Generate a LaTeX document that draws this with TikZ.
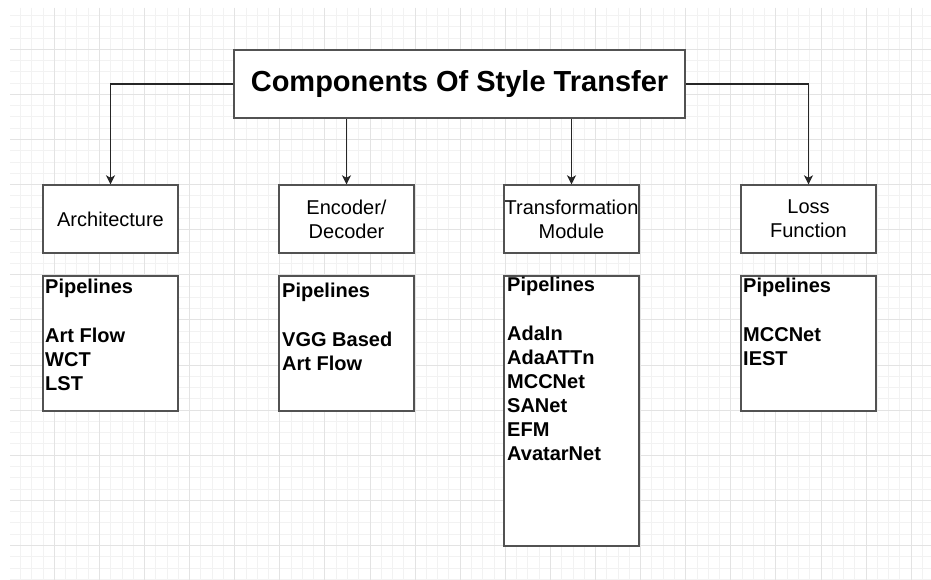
\documentclass[tikz,border=0pt]{standalone}
\usepackage{fontspec}
\setmainfont{Liberation Sans}
\usetikzlibrary{arrows.meta}
\begin{document}
\begin{tikzpicture}[x=1pt,y=-1pt,
  boxshape/.style={draw=black!68, line width=1.4pt, fill=white, inner sep=0pt},
  headtxt/.style={font=\fontsize{20}{24}\selectfont, align=center, text=black},
  listtxt/.style={font=\fontsize{20}{24}\selectfont\bfseries, align=left, anchor=north west, inner sep=0pt, text=black},
  conn/.style={draw=black!85, line width=1.3pt, -{Stealth[length=9pt,width=9pt,inset=2.5pt]}},
  gridminor/.style={draw=black!5, line width=0.9pt},
  gridmajor/.style={draw=black!11, line width=1pt}]
\useasboundingbox (0,0) rectangle (931,580);
\fill[white] (0,0) rectangle (931,580);
\begin{scope}
  \clip (10,8) rectangle (931,580);
  \foreach \k in {0,...,81} \draw[gridminor] (20.475+11.275*\k,8) -- (20.475+11.275*\k,580);
  \foreach \k in {0,...,50} \draw[gridminor] (10,15.475+11.275*\k) -- (931,15.475+11.275*\k);
  \foreach \k in {0,...,19} \draw[gridmajor] (54.3+45.1*\k,8) -- (54.3+45.1*\k,580);
  \foreach \k in {0,...,11} \draw[gridmajor] (10,49.3+45.1*\k) -- (931,49.3+45.1*\k);
\end{scope}

% title
\node[boxshape, minimum width=451pt, minimum height=68pt,
      font=\fontsize{29}{34}\selectfont\bfseries] (title) at (459.5,84) {Components Of Style Transfer};

% category boxes
\node[boxshape, headtxt, minimum width=135pt, minimum height=68pt] (arch)  at (110.5,219) {Architecture};
\node[boxshape, headtxt, minimum width=135pt, minimum height=68pt] (enc)   at (346.5,219) {Encoder/\\Decoder};
\node[boxshape, headtxt, minimum width=135pt, minimum height=68pt] (trans) at (571.5,219) {Transformation\\Module};
\node[boxshape, headtxt, minimum width=135pt, minimum height=68pt] (loss)  at (808.5,219) {Loss\\Function};

% pipeline boxes
\node[boxshape, minimum width=135pt, minimum height=135pt] (archp)  at (110.5,343.5) {};
\node[boxshape, minimum width=135pt, minimum height=135pt] (encp)   at (346.5,343.5) {};
\node[boxshape, minimum width=135pt, minimum height=270pt] (transp) at (571.5,411) {};
\node[boxshape, minimum width=135pt, minimum height=135pt] (lossp)  at (808.5,343.5) {};

\node[listtxt] (archt)  at (45,277)  {\rule{0pt}{16pt}Pipelines\\[25pt]Art Flow\\WCT\\LST};
\node[listtxt] (enct)   at (282,281) {\rule{0pt}{16pt}Pipelines\\[25pt]VGG Based\\Art Flow};
\node[listtxt] (transt) at (507,275) {\rule{0pt}{16pt}Pipelines\\[25pt]AdaIn\\AdaATTn\\MCCNet\\SANet\\EFM\\AvatarNet};
\node[listtxt] (losst)  at (743,276) {\rule{0pt}{16pt}Pipelines\\[25pt]MCCNet\\IEST};

% connectors
\draw[conn] (title.west) -| (arch.north);
\draw[conn] (enc.north |- title.south) -- (enc.north);
\draw[conn] (trans.north |- title.south) -- (trans.north);
\draw[conn] (title.east) -| (loss.north);
\end{tikzpicture}
\end{document}
